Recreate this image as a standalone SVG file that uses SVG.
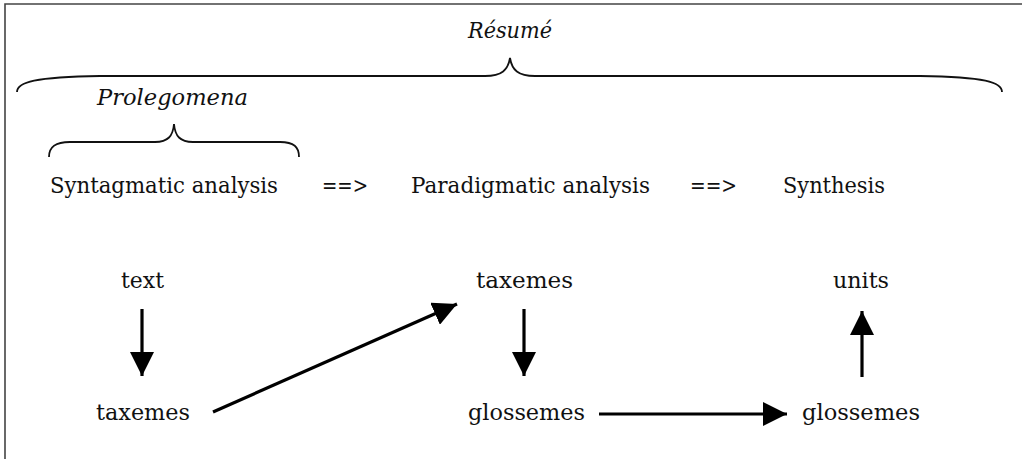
<svg xmlns="http://www.w3.org/2000/svg" width="1022" height="459" viewBox="0 0 1022 459">
  <style>
    .t { font-family: "DejaVu Serif", "Liberation Serif", serif; font-size: 22px; fill: #111; }
    .i { font-style: italic; }
    .brace { fill: none; stroke: #111; stroke-width: 1.8; }
    .arr { fill: none; stroke: #000; stroke-width: 3.2; marker-end: url(#head); }
    .frame { fill: none; stroke: #444; stroke-width: 1.6; }
  </style>
  <defs>
    <marker id="head" markerUnits="userSpaceOnUse" markerWidth="24" markerHeight="24" viewBox="0 0 22 22" refX="22" refY="11" orient="auto">
      <path d="M0,0 L22,11 L0,22 Z" fill="#000"/>
    </marker>
  </defs>
  <rect width="1022" height="459" fill="#fff"/>
  <path class="frame" d="M5,459 L5,4 L1022,4"/>

  <g id="resume">
    <text class="t i" x="468" y="38" textLength="84" lengthAdjust="spacingAndGlyphs">Résumé</text>
    <path class="brace" d="M17,92 C17,82 35,77 100,76 L485,76 C502,76 508,70 510,58 C512,70 518,76 535,76 L920,76 C985,77 1002,82 1002,92"/>
  </g>
  <g id="prolegomena">
    <text class="t i" x="97" y="105" textLength="151" lengthAdjust="spacingAndGlyphs">Prolegomena</text>
    <path class="brace" d="M49,157 C49,147 55,142 70,142 L155,142 C168,142 173,136 174,124 C175,136 180,142 193,142 L280,142 C294,142 299,147 299,157"/>
  </g>
  <g id="syntagmatic">
    <text class="t" x="50" y="193" textLength="228" lengthAdjust="spacingAndGlyphs">Syntagmatic analysis</text>
  </g>
  <g id="arrow1">
    <text class="t" x="322" y="193" textLength="46" lengthAdjust="spacingAndGlyphs">==&gt;</text>
  </g>
  <g id="paradigmatic">
    <text class="t" x="411" y="193" textLength="239" lengthAdjust="spacingAndGlyphs">Paradigmatic analysis</text>
  </g>
  <g id="arrow2">
    <text class="t" x="690" y="193" textLength="47" lengthAdjust="spacingAndGlyphs">==&gt;</text>
  </g>
  <g id="synthesis">
    <text class="t" x="783" y="193" textLength="102" lengthAdjust="spacingAndGlyphs">Synthesis</text>
  </g>
  <g id="text">
    <text class="t" x="121" y="288" textLength="43" lengthAdjust="spacingAndGlyphs">text</text>
  </g>
  <g id="taxemes1">
    <text class="t" x="96" y="420" textLength="94" lengthAdjust="spacingAndGlyphs">taxemes</text>
  </g>
  <g id="taxemes2">
    <text class="t" x="476" y="288" textLength="97" lengthAdjust="spacingAndGlyphs">taxemes</text>
  </g>
  <g id="glossemes1">
    <text class="t" x="468" y="420" textLength="117" lengthAdjust="spacingAndGlyphs">glossemes</text>
  </g>
  <g id="units">
    <text class="t" x="833" y="288" textLength="56" lengthAdjust="spacingAndGlyphs">units</text>
  </g>
  <g id="glossemes2">
    <text class="t" x="802" y="420" textLength="118" lengthAdjust="spacingAndGlyphs">glossemes</text>
  </g>

  <g id="connectors">
    <line class="arr" x1="142" y1="309" x2="142" y2="376"/>
    <line class="arr" x1="213" y1="412" x2="457" y2="304"/>
    <line class="arr" x1="524" y1="309" x2="524" y2="376"/>
    <line class="arr" x1="599" y1="414" x2="787" y2="414"/>
    <line class="arr" x1="862" y1="377" x2="862" y2="311"/>
  </g>
</svg>
